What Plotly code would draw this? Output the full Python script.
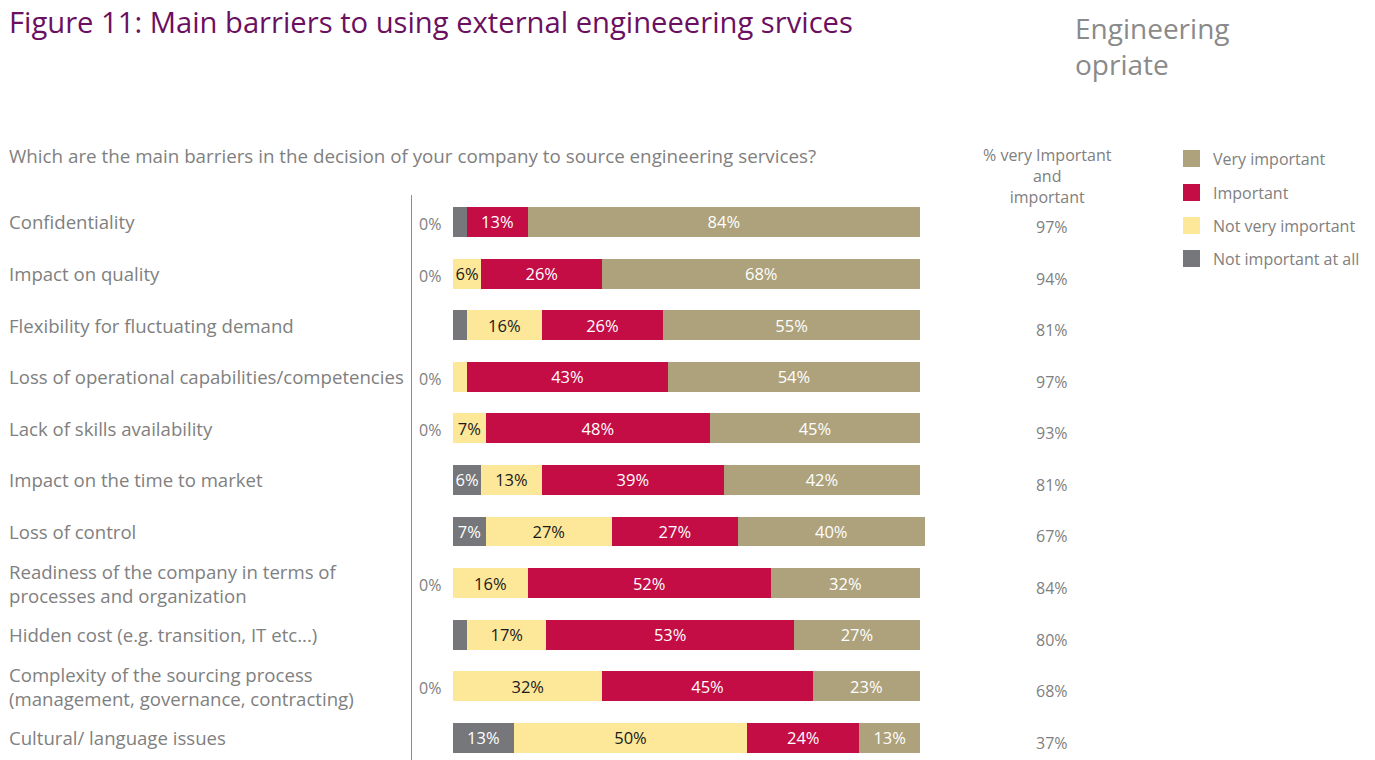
import plotly.graph_objects as go

# Survey answers per barrier (% of respondents)
categories = [
    "Confidentiality",
    "Impact on quality",
    "Flexibility for fluctuating demand",
    "Loss of operational capabilities/competencies",
    "Lack of skills availability",
    "Impact on the time to market",
    "Loss of control",
    "Readiness of the company in terms of<br>processes and organization",
    "Hidden cost (e.g. transition, IT etc...)",
    "Complexity of the sourcing process<br>(management, governance, contracting)",
    "Cultural/ language issues",
]
not_important_at_all = [3, 0, 3, 0, 0, 6, 7, 0, 3, 0, 13]
not_very_important = [0, 6, 16, 3, 7, 13, 27, 16, 17, 32, 50]
important = [13, 26, 26, 43, 48, 39, 27, 52, 53, 45, 24]
very_important = [84, 68, 55, 54, 45, 42, 40, 32, 27, 23, 13]
share_very_and_important = [97, 94, 81, 97, 93, 81, 67, 84, 80, 68, 37]

series = [
    ("Not important at all", not_important_at_all, "#76777b", "white"),
    ("Not very important", not_very_important, "#fde89a", "#1a1a1a"),
    ("Important", important, "#c40c45", "white"),
    ("Very important", very_important, "#ada27b", "white"),
]

W, H = 1375, 760
PL, PR, PT, PB = 412, 943, 195, 760  # plot area in pixels


def px_x(p):
    return (p - PL) / (PR - PL)


def px_y(p):
    return (PB - p) / (PB - PT)


GREY = "#808080"
FONT = "Open Sans"
ids = [str(i) for i in range(len(categories))]

fig = go.Figure()
for name, vals, color, tcolor in series:
    fig.add_trace(go.Bar(
        y=ids, x=vals, orientation="h", name=name,
        marker=dict(color=color, line=dict(width=0)),
        text=[f"{v}%" if v >= 5 else "" for v in vals],
        textposition="inside", insidetextanchor="middle",
        constraintext="none", textangle=0,
        textfont=dict(color=tcolor, size=16.5, family=FONT),
        showlegend=False, hoverinfo="skip",
    ))

ann = []
# row labels, zero labels and right-hand totals
for i, cat in enumerate(categories):
    ann.append(dict(x=px_x(7), xref="paper", y=ids[i], yref="y", text=cat,
                    xanchor="left", yanchor="middle", align="left", showarrow=False,
                    font=dict(size=18.6, color=GREY, family=FONT)))
    vals = [s[1][i] for s in series]
    if 0 in vals:
        ann.append(dict(x=-4.9, xref="x", y=ids[i], yref="y", text="0%",
                        xanchor="center", yanchor="middle", showarrow=False, yshift=-2,
                        font=dict(size=16, color=GREY, family=FONT)))
    ann.append(dict(x=px_x(1052), xref="paper", y=ids[i], yref="y",
                    text=f"{share_very_and_important[i]}%",
                    xanchor="center", yanchor="middle", showarrow=False, yshift=-5,
                    font=dict(size=16, color=GREY, family=FONT)))

ann += [
    dict(x=px_x(7), y=px_y(22), xref="paper", yref="paper",
         text="Figure 11: Main barriers to using external engineeering srvices",
         xanchor="left", yanchor="middle", showarrow=False,
         font=dict(size=29.2, color="#6b1060", family=FONT)),
    dict(x=px_x(1073), y=px_y(46), xref="paper", yref="paper",
         text="Engineering<br>opriate", align="left",
         xanchor="left", yanchor="middle", showarrow=False,
         font=dict(size=28, color="#8a8a8a", family=FONT)),
    dict(x=px_x(7), y=px_y(156), xref="paper", yref="paper",
         text="Which are the main barriers in the decision of your company to source engineering services?",
         xanchor="left", yanchor="middle", showarrow=False,
         font=dict(size=18.8, color=GREY, family=FONT)),
    dict(x=px_x(1047), y=px_y(176), xref="paper", yref="paper",
         text="% very Important<br>and<br>important", align="center",
         xanchor="center", yanchor="middle", showarrow=False,
         font=dict(size=16, color=GREY, family=FONT)),
]

# legend swatches
shapes = []
legend_rows = [("Very important", "#ada27b", 159), ("Important", "#c40c45", 193),
               ("Not very important", "#fde89a", 226), ("Not important at all", "#76777b", 259)]
for label, color, yc in legend_rows:
    shapes.append(dict(type="rect", xref="paper", yref="paper",
                       x0=px_x(1183), x1=px_x(1200), y0=px_y(yc - 9), y1=px_y(yc + 8),
                       fillcolor=color, line=dict(width=0)))
    ann.append(dict(x=px_x(1211), y=px_y(yc), xref="paper", yref="paper", text=label,
                    xanchor="left", yanchor="middle", showarrow=False,
                    font=dict(size=16, color=GREY, family=FONT)))

fig.update_layout(
    width=W, height=H,
    margin=dict(l=PL, r=W - PR, t=PT, b=H - PB, pad=0),
    barmode="stack", bargap=0.42,
    paper_bgcolor="white", plot_bgcolor="white",
    xaxis=dict(range=[-8.78, 104.93], visible=False, fixedrange=True),
    yaxis=dict(type="category", range=[10.43, -0.523], showticklabels=False,
               showgrid=False, zeroline=False, ticks="",
               showline=True, linecolor="#8c8c8c", linewidth=1, fixedrange=True),
    annotations=ann, shapes=shapes,
    font=dict(family=FONT, color=GREY),
)

fig.write_html("out.html")
